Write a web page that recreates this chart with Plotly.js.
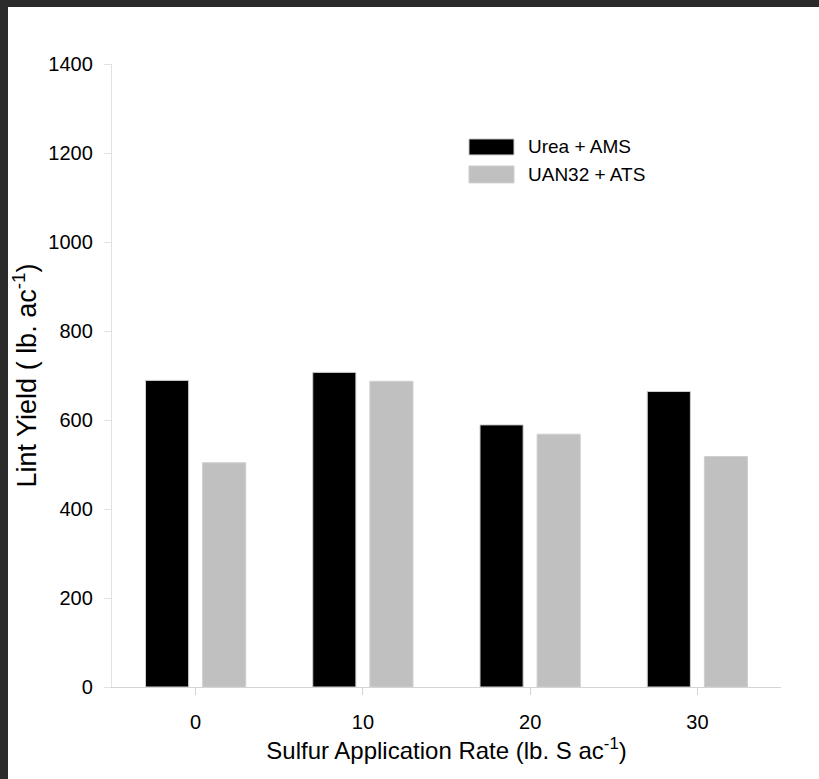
<!DOCTYPE html>
<html>
<head>
<meta charset="utf-8">
<script src="https://cdn.plot.ly/plotly-3.0.1.min.js"></script>
<style>
  html, body { margin: 0; padding: 0; }
  body { width: 819px; height: 779px; background: #2b2b2b; position: relative; overflow: hidden; }
  #chart { position: absolute; left: 8px; top: 7px; width: 811px; height: 772px; background: #fff; }
</style>
</head>
<body>
<div id="chart"></div>
<script>
// Sulfur application rates (lb. S ac-1)
const rates = ['0', '10', '20', '30'];
// Lint yield by treatment (lb. ac-1)
const ureaAms = [689, 707, 589, 664];
const uan32Ats = [504, 687, 568, 518];
const seriesNames = ['Urea + AMS', 'UAN32 + ATS'];
const seriesColors = ['#000000', '#c0c0c0'];
const yTicks = [0, 200, 400, 600, 800, 1000, 1200, 1400];

const FONT = 'Arial, "Liberation Sans", sans-serif';
const outline = '#cfcfcf';

const traces = [ureaAms, uan32Ats].map((vals, i) => ({
  type: 'bar',
  name: seriesNames[i],
  x: rates,
  y: vals,
  marker: { color: seriesColors[i], line: { color: outline, width: 1 } },
  showlegend: false,
  hoverinfo: 'x+y'
}));

// Legend drawn as wide swatches with labels beside them
const legendX0 = 0.5336, legendX1 = 0.6009, legendTextX = 0.6188;
const legendRows = [[0.854, 0.8797], [0.8091, 0.8364]];
const shapes = seriesNames.map((n, i) => ({
  type: 'rect', xref: 'paper', yref: 'paper',
  x0: legendX0, x1: legendX1, y0: legendRows[i][0], y1: legendRows[i][1],
  fillcolor: seriesColors[i], line: { color: outline, width: 1 }
}));
const annotations = seriesNames.map((n, i) => ({
  xref: 'paper', yref: 'paper', x: legendTextX,
  y: (legendRows[i][0] + legendRows[i][1]) / 2,
  xanchor: 'left', yanchor: 'middle', showarrow: false,
  text: n, font: { family: FONT, size: 19, color: '#000' }
}));

const layout = {
  width: 811, height: 772,
  margin: { l: 104, r: 38, t: 57, b: 91.5 },
  paper_bgcolor: '#ffffff', plot_bgcolor: '#ffffff',
  barmode: 'group', bargap: 0.317, bargroupgap: 0.245,
  font: { family: FONT, color: '#000' },
  xaxis: {
    type: 'category',
    showline: true, linecolor: '#d4d4d4', linewidth: 1.2,
    ticks: 'outside', ticklen: 7, tickcolor: '#d4d4d4',
    tickfont: { family: FONT, size: 20, color: '#000' },
    ticklabelstandoff: 10,
    showgrid: false, zeroline: false,
    title: { text: 'Sulfur Application Rate (lb. S ac<sup>-1</sup>)', font: { family: FONT, size: 24, color: '#000' }, standoff: 10 }
  },
  yaxis: {
    range: [0, 1400], tickvals: yTicks, ticktext: yTicks.map(String),
    showline: true, linecolor: '#e2e2e2', linewidth: 1.2,
    ticks: 'outside', ticklen: 7, tickcolor: '#e2e2e2',
    tickfont: { family: FONT, size: 20, color: '#000' },
    ticklabelstandoff: 7,
    showgrid: false, zeroline: false,
    title: { text: 'Lint Yield ( lb. ac<sup>-1</sup>)', font: { family: FONT, size: 27, color: '#000' }, standoff: 12 }
  },
  shapes: shapes,
  annotations: annotations
};

Plotly.newPlot('chart', traces, layout, { displayModeBar: false, staticPlot: true });
</script>
</body>
</html>
